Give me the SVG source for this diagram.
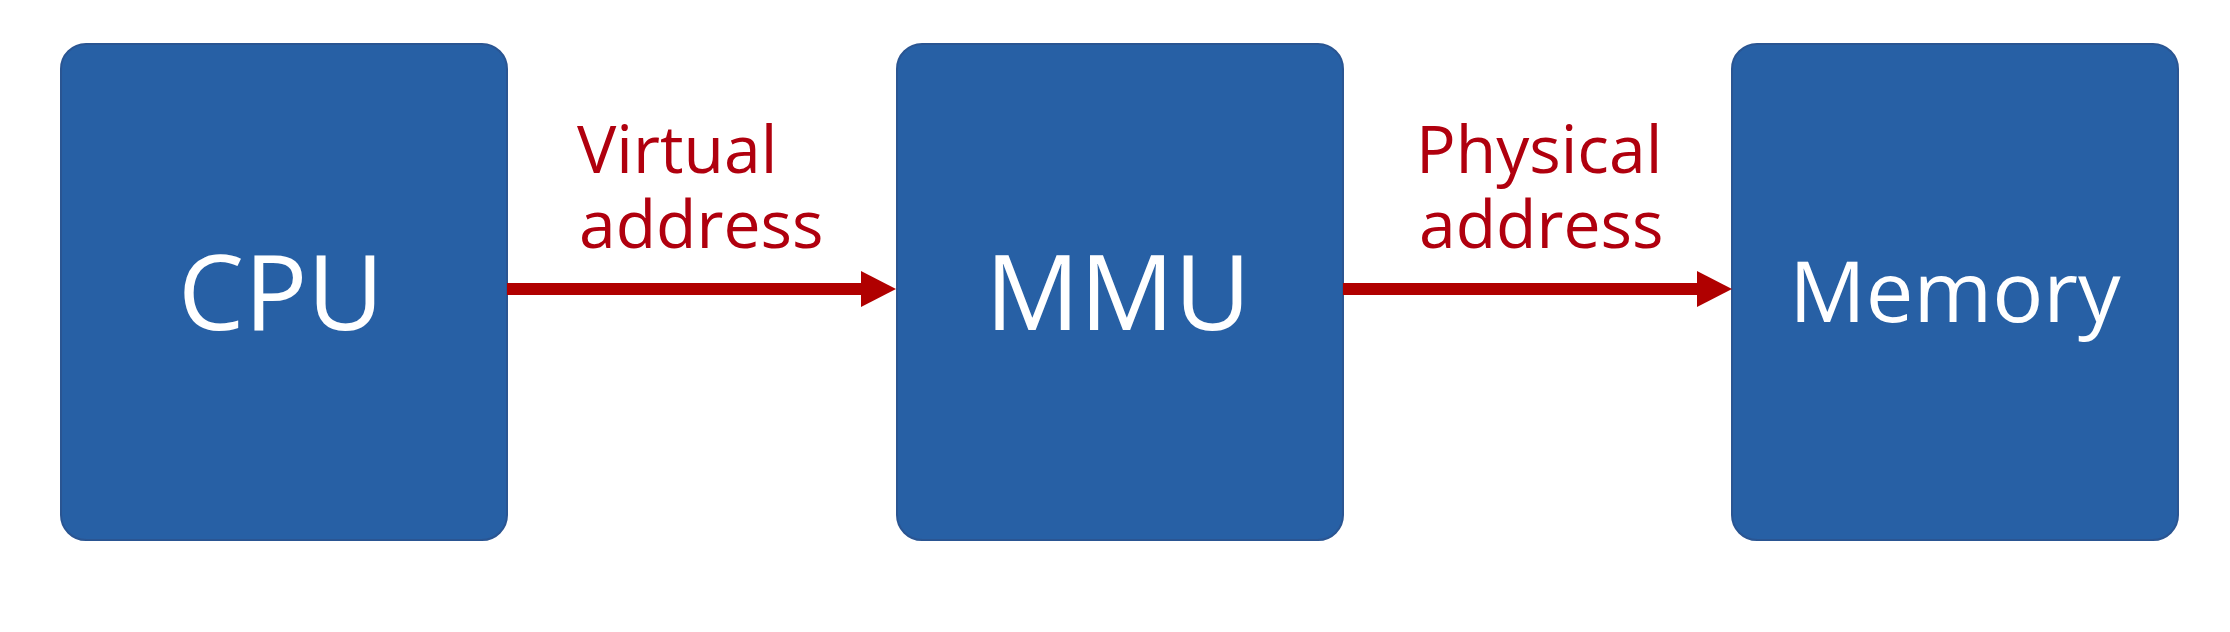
<svg xmlns="http://www.w3.org/2000/svg" width="2230" height="632" viewBox="0 0 2230 632">
<style>
.box{fill:#2760a5;stroke:#2a5592;stroke-width:2}
.big{font-family:"Open Sans","Liberation Sans",sans-serif;fill:#ffffff;text-anchor:middle}
.lbl{font-family:"Open Sans","Liberation Sans",sans-serif;fill:#b0000e;font-size:66px}
.conn{stroke:#b00000;stroke-width:12;fill:none}
</style>
<defs>
<marker id="ah" markerUnits="userSpaceOnUse" markerWidth="36" markerHeight="36" refX="0" refY="18" orient="auto" viewBox="0 0 36 36">
<path d="M0,0 L35,18 L0,36 Z" fill="#b00000"/>
</marker>
</defs>
<rect width="2230" height="632" fill="#ffffff"/>
<g id="cpu">
<rect class="box" x="61" y="44" width="446" height="496" rx="25" ry="25"/>
<text class="big" x="281" y="330" font-size="105">CPU</text>
</g>
<g id="mmu">
<rect class="box" x="897" y="44" width="446" height="496" rx="25" ry="25"/>
<text class="big" x="1118" y="330" font-size="105">MMU</text>
</g>
<g id="memory">
<rect class="box" x="1732" y="44" width="446" height="496" rx="25" ry="25"/>
<text class="big" x="1955" y="322" font-size="85">Memory</text>
</g>
<g id="connectors">
<line class="conn" x1="507" y1="289" x2="861" y2="289" marker-end="url(#ah)"/>
<line class="conn" x1="1343" y1="289" x2="1697" y2="289" marker-end="url(#ah)"/>
</g>
<g id="labels">
<text class="lbl" x="577" y="173">Virtual<tspan x="579" y="248">address</tspan></text>
<text class="lbl" x="1416" y="173">Physical<tspan x="1419" y="248">address</tspan></text>
</g>
</svg>
